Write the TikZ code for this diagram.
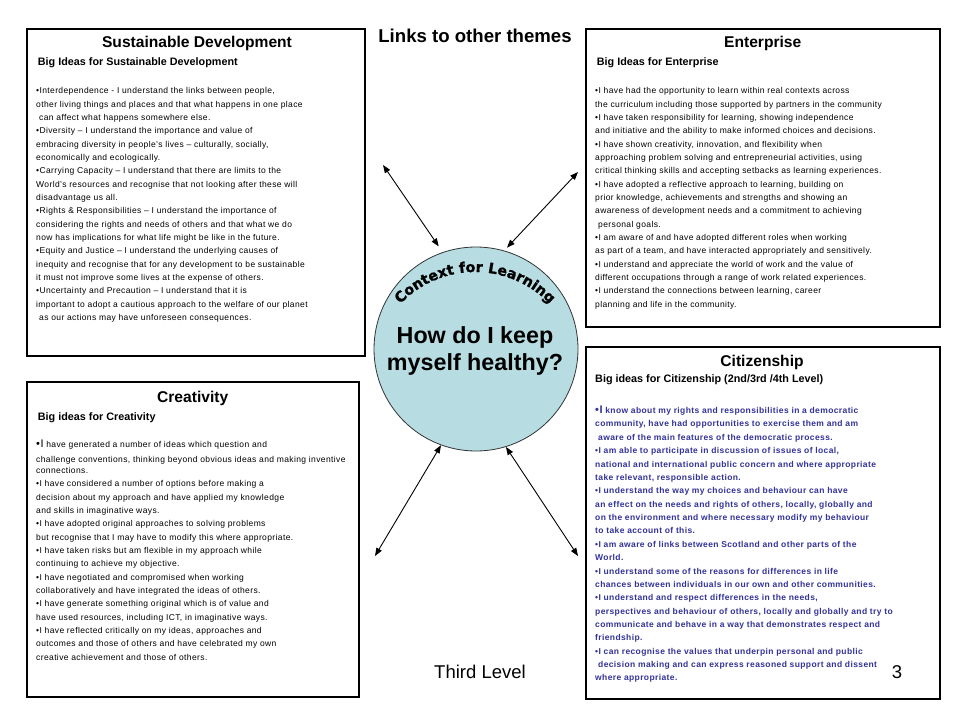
\documentclass[tikz,border=0pt]{standalone}
\usepackage{fontspec}
\setmainfont{Liberation Sans}
\newfontfamily\bodyfont[LetterSpace=4.5]{Liberation Sans}
\newfontfamily\arcfont[BoldFeatures={FakeBold=1.2}]{DejaVu Sans}
\usetikzlibrary{arrows.meta,decorations.text}
\definecolor{citblue}{RGB}{51,51,153}
\definecolor{ballblue}{RGB}{183,221,227}
\newcommand\mybul{•}
\newcommand\ind{\hspace*{3pt}}
\begin{document}
\begin{tikzpicture}[x=1pt,y=-1pt,
  frame/.style={draw=black,line width=2.2pt},
  title/.style={font=\bfseries\fontsize{15.6}{18}\selectfont,anchor=base,inner sep=0pt},
  subtitle/.style={font=\bfseries\fontsize{10.8}{13}\selectfont,anchor=base west,inner sep=0pt},
  body/.style={font=\bodyfont\fontsize{8.5}{13.33}\selectfont,align=left,anchor=north west,inner sep=0pt},
  citbody/.style={body,font=\bodyfont\bfseries\fontsize{8.5}{13.37}\selectfont,text=citblue},
  link/.style={{Triangle[length=8pt,width=6pt]}-{Triangle[length=8pt,width=6pt]},line width=0.9pt},
]
\fill[white] (0,0) rectangle (960,720);
\useasboundingbox (0,0) rectangle (960,720);

% frames
\draw[frame] (27,29) rectangle (365,356);
\draw[frame] (586,29) rectangle (940,327);
\draw[frame] (27,382) rectangle (359,697);
\draw[frame] (586,347) rectangle (940,699);

% Sustainable Development
\node[title] (sdtitle) at (197,47) {Sustainable Development};
\node[subtitle] (sdsub) at (37.7,65.3) {Big Ideas for Sustainable Development};
\node[body] (sdtext) at (36,84.2) {\strut\mybul Interdependence - I understand the links between people,\\
other living things and places and that what happens in one place\\
\ind can affect what happens somewhere else.\\
\mybul Diversity – I understand the importance and value of\\
embracing diversity in people’s lives – culturally, socially,\\
economically and ecologically.\\
\mybul Carrying Capacity – I understand that there are limits to the\\
World’s resources and recognise that not looking after these will\\
disadvantage us all.\\
\mybul Rights \& Responsibilities – I understand the importance of\\
considering the rights and needs of others and that what we do\\
now has implications for what life might be like in the future.\\
\mybul Equity and Justice – I understand the underlying causes of\\
inequity and recognise that for any development to be sustainable\\
it must not improve some lives at the expense of others.\\
\mybul Uncertainty and Precaution – I understand that it is\\
important to adopt a cautious approach to the welfare of our planet\\
\ind as our actions may have unforeseen consequences.};

% Enterprise
\node[title] (entitle) at (762.7,47) {Enterprise};
\node[subtitle] (ensub) at (596.7,65.3) {Big Ideas for Enterprise};
\node[body] (entext) at (595,84.2) {\strut\mybul I have had the opportunity to learn within real contexts across\\
the curriculum including those supported by partners in the community\\
\mybul I have taken responsibility for learning, showing independence\\
and initiative and the ability to make informed choices and decisions.\\
\mybul I have shown creativity, innovation, and flexibility when\\
approaching problem solving and entrepreneurial activities, using\\
critical thinking skills and accepting setbacks as learning experiences.\\
\mybul I have adopted a reflective approach to learning, building on\\
prior knowledge, achievements and strengths and showing an\\
awareness of development needs and a commitment to achieving\\
\ind personal goals.\\
\mybul I am aware of and have adopted different roles when working\\
as part of a team, and have interacted appropriately and sensitively.\\
\mybul I understand and appreciate the world of work and the value of\\
different occupations through a range of work related experiences.\\
\mybul I understand the connections between learning, career\\
planning and life in the community.};

% Creativity
\node[title] (crtitle) at (192.7,402.7) {Creativity};
\node[subtitle] (crsub) at (37.7,420) {Big ideas for Creativity};
\node[body] (crtext) at (36,438.4) {\strut{\fontsize{11}{13.33}\selectfont\mybul I} have generated a number of ideas which question and\\[1.67pt]
challenge conventions, thinking beyond obvious ideas and making inventive\\[-2.7pt]
connections.\\
\mybul I have considered a number of options before making a\\
decision about my approach and have applied my knowledge\\
and skills in imaginative ways.\\
\mybul I have adopted original approaches to solving problems\\
but recognise that I may have to modify this where appropriate.\\
\mybul I have taken risks but am flexible in my approach while\\
continuing to achieve my objective.\\
\mybul I have negotiated and compromised when working\\
collaboratively and have integrated the ideas of others.\\
\mybul I have generate something original which is of value and\\
have used resources, including ICT, in imaginative ways.\\
\mybul I have reflected critically on my ideas, approaches and\\
outcomes and those of others and have celebrated my own\\
creative achievement and those of others.};

% Citizenship
\node[title] (cititle) at (762,366.7) {Citizenship};
\node[subtitle] (cisub) at (595,382.7) {Big ideas for Citizenship (2nd/3rd /4th Level)};
\node[citbody] (citext) at (595,404) {\strut{\fontsize{11}{13.37}\selectfont\mybul I} know about my rights and responsibilities in a democratic\\
community, have had opportunities to exercise them and am\\
\ind aware of the main features of the democratic process.\\
\mybul I am able to participate in discussion of issues of local,\\
national and international public concern and where appropriate\\
take relevant, responsible action.\\
\mybul I understand the way my choices and behaviour can have\\
an effect on the needs and rights of others, locally, globally and\\
on the environment and where necessary modify my behaviour\\
to take account of this.\\
\mybul I am aware of links between Scotland and other parts of the\\
World.\\
\mybul I understand some of the reasons for differences in life\\
chances between individuals in our own and other communities.\\
\mybul I understand and respect differences in the needs,\\
perspectives and behaviour of others, locally and globally and try to\\
communicate and behave in a way that demonstrates respect and\\
friendship.\\
\mybul I can recognise the values that underpin personal and public\\
\ind decision making and can express reasoned support and dissent\\
where appropriate.};

% centre
\node[font=\bfseries\fontsize{18.6}{22}\selectfont,anchor=base,inner sep=0pt] (links) at (475,42.7) {Links to other themes};
\node[circle,draw=black!80,line width=0.8pt,fill=ballblue,minimum size=204pt,inner sep=0pt] (ball) at (476,349) {};
\path[decorate,decoration={text along path,text align=center,
  text={|\arcfont\bfseries\fontsize{14.3}{16}\selectfont|Context for Learning}}]
  (396.1,308.8) arc[start angle=220,end angle=320,radius=103];
\node[font=\bfseries\fontsize{23.3}{27}\selectfont,align=center,anchor=north,inner sep=0pt] (question) at (475,324.1) {\strut How do I keep\\myself healthy?};

\node[font=\fontsize{18.5}{22}\selectfont,anchor=base,inner sep=0pt] (level) at (480,678.3) {Third Level};
\node[font=\fontsize{18.5}{22}\selectfont,anchor=base,inner sep=0pt] (pagenum) at (897,678.3) {3};

% connectors
\coordinate (tl) at (383,165);
\coordinate (tr) at (578,172);
\coordinate (bl) at (375,556);
\coordinate (br) at (578,556);
\draw[link,shorten >=7pt] (tl) -- (ball.109);
\draw[link,shorten >=4pt] (tr) -- (ball.74);
\draw[link] (ball.250) -- (bl);
\draw[link] (ball.287) -- (br);
\end{tikzpicture}
\end{document}
